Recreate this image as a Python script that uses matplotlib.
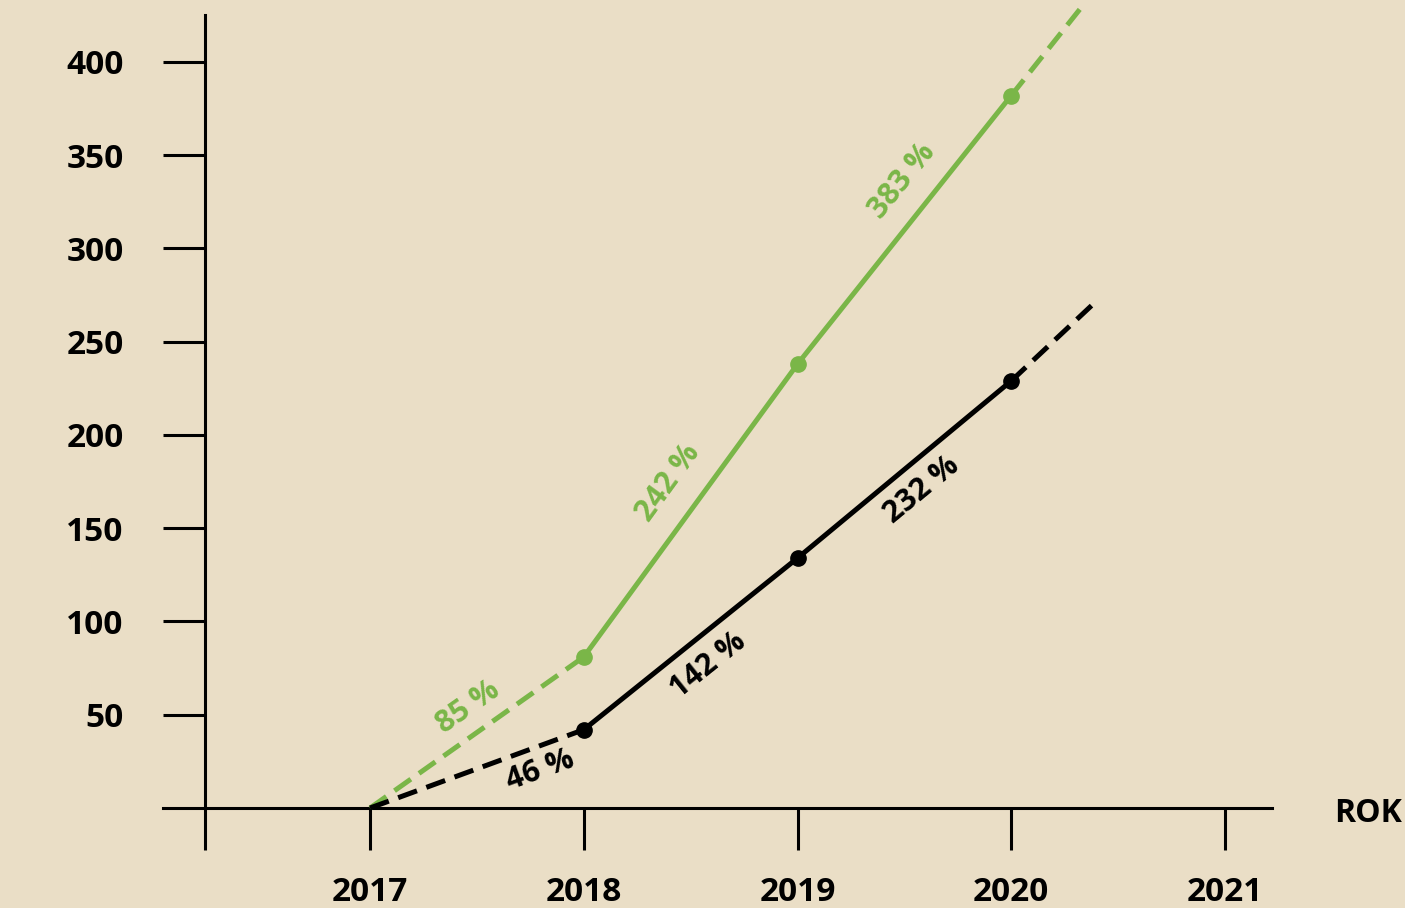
import matplotlib.pyplot as plt

# values
years = [2017, 2018, 2019, 2020]
green_vals = [0, 81, 238, 382]
black_vals = [0, 42, 134, 229]
green_ext = (2020.34, 431)
black_ext = (2020.40, 272)
green_labels = ['85 %', '242 %', '383 %']
black_labels = ['46 %', '142 %', '232 %']
xticks = [2017, 2018, 2019, 2020, 2021]
yticks = [50, 100, 150, 200, 250, 300, 350, 400]

bg = '#eadec6'
green = '#7ab648'
black = '#000000'

plt.rcParams['font.family'] = ['Open Sans', 'DejaVu Sans']

fig = plt.figure(figsize=(14.05, 9.08), dpi=100, facecolor=bg)
ax = fig.add_axes([0, 0, 1, 1], facecolor=bg)
ax.set_xlim(2015.269, 2021.842)
ax.set_ylim(-53.6, 433.2)

dash = (0, (4, 2))
for vals, ext, col in [(green_vals, green_ext, green), (black_vals, black_ext, black)]:
    ax.plot(years[:2], vals[:2], color=col, lw=3.6, linestyle=dash, solid_capstyle='butt', zorder=3)
    ax.plot(years[1:], vals[1:], color=col, lw=3.6, zorder=3)
    ax.plot([years[-1], ext[0]], [vals[-1], ext[1]], color=col, lw=3.6, linestyle=dash, zorder=3)
    ax.plot(years[1:], vals[1:], 'o', color=col, ms=11, zorder=4)

# rotated percentage labels, positions/angles measured on screen
lab_pos = [(2017.458, 54.2, 35), (2018.394, 174.3, 54), (2019.489, 336.2, 51)]
for (x, y, r), t in zip(lab_pos, green_labels):
    ax.text(x, y, t, color=green, fontsize=22, fontweight='bold', rotation=r,
            rotation_mode='anchor', ha='center', va='center')
lab_pos = [(2017.795, 20.4, 20), (2018.581, 76.7, 38.6), (2019.582, 170.5, 39.5)]
for (x, y, r), t in zip(lab_pos, black_labels):
    ax.text(x, y, t, color=black, fontsize=22, fontweight='bold', rotation=r,
            rotation_mode='anchor', ha='center', va='center')

# axes
for s in ['top', 'right']:
    ax.spines[s].set_visible(False)
ax.spines['left'].set_position(('data', 2016.23))
ax.spines['left'].set_bounds(0, 425)
ax.spines['bottom'].set_position(('data', 0))
ax.spines['bottom'].set_bounds(2016.03, 2021.22)
for s in ['left', 'bottom']:
    ax.spines[s].set_linewidth(2.2)
    ax.spines[s].set_color('black')

ax.set_yticks(yticks)
ax.set_yticklabels([str(v) for v in yticks])
ax.set_xticks([2016.23] + xticks)
ax.set_xticklabels([''] + [str(v) for v in xticks])
ax.tick_params(axis='y', direction='out', length=30, width=2.2, pad=29, labelsize=24)
ax.tick_params(axis='x', direction='out', length=30, width=2.2, pad=19, labelsize=24)
for lb in ax.get_xticklabels() + ax.get_yticklabels():
    lb.set_fontweight('bold')

ax.text(2021.51, -3, 'ROK', fontsize=23, fontweight='bold', ha='left', va='center')

fig.savefig('out.png', dpi=100, facecolor=bg)
